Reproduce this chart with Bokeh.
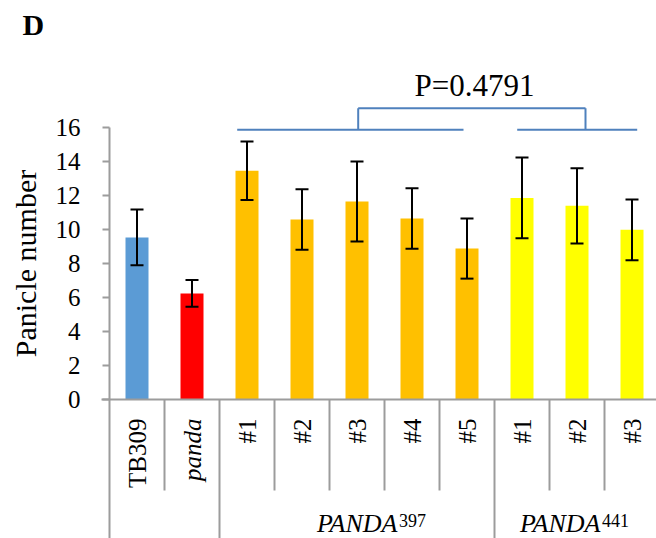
import numpy as np
from bokeh.plotting import figure
from bokeh.models import (ColumnDataSource, Range1d, LinearAxis, FixedTicker,
                          Whisker, TeeHead)
from bokeh.core.properties import value, field
from bokeh.embed import file_html
from bokeh.resources import INLINE

# ---- data -------------------------------------------------------------
categories = ["TB309", "panda", "#1", "#2", "#3", "#4", "#5", "#1", "#2", "#3"]
label_styles = ["normal", "italic", "normal", "normal", "normal",
                "normal", "normal", "normal", "normal", "normal"]
means = [9.53, 6.24, 13.45, 10.59, 11.65, 10.65, 8.88, 11.86, 11.39, 9.98]
errors = [1.64, 0.79, 1.72, 1.78, 2.35, 1.78, 1.77, 2.37, 2.21, 1.79]
bar_colors = ["#5B9BD5", "#FF0000", "#FFC000", "#FFC000", "#FFC000",
              "#FFC000", "#FFC000", "#FFFF00", "#FFFF00", "#FFFF00"]
group_names = ["PANDA", "PANDA"]
group_sups = ["397", "441"]
y_ticks = [0, 2, 4, 6, 8, 10, 12, 14, 16]
p_text = "P=0.4791"
y_title = "Panicle number"
panel_letter = "D"

# ---- geometry ---------------------------------------------------------
W, H = 656, 538
LEFT = 109          # pixel column of the y axis line
PX_X = 55.0         # pixels per category
PX_Y = 17.0         # pixels per unit of panicle number
ZERO = 399          # pixel row of y = 0

x_start = -LEFT / PX_X
x_end = (W - LEFT) / PX_X
y_min = -(H - ZERO) / PX_Y
y_max = ZERO / PX_Y


def px(v):
    """pixel column -> data x"""
    return (v - LEFT) / PX_X


def py(v):
    """pixel row -> data y"""
    return (ZERO - v) / PX_Y


AXIS_GRAY = "#9C9C9C"
SERIF = "Liberation Serif"

p = figure(width=W, height=H,
           x_range=Range1d(x_start, x_end), y_range=Range1d(y_min, y_max),
           x_axis_location=None, y_axis_location=None,
           min_border_left=0, min_border_right=0,
           min_border_top=0, min_border_bottom=0,
           toolbar_location=None, output_backend="svg",
           outline_line_color=None,
           background_fill_color="white", border_fill_color="white")
p.grid.visible = False

# ---- y axis pinned at x = 0; its line runs down through the table -----
yaxis = LinearAxis(bounds=(y_min, 16), ticker=FixedTicker(ticks=y_ticks),
                   fixed_location=0)
yaxis.axis_line_color = AXIS_GRAY
yaxis.axis_line_width = 2
yaxis.major_tick_line_color = AXIS_GRAY
yaxis.major_tick_line_width = 2
yaxis.major_tick_out = 7
yaxis.major_tick_in = 0
yaxis.minor_tick_out = 0
yaxis.minor_tick_in = 0
yaxis.major_label_text_font = SERIF
yaxis.major_label_text_font_size = "25px"
yaxis.major_label_text_color = "black"
yaxis.major_label_standoff = 22
p.add_layout(yaxis, "left")

# ---- bars and error bars ---------------------------------------------
xs = [i + 0.5 for i in range(len(categories))]
src = ColumnDataSource(dict(
    x=xs, top=means, color=bar_colors,
    upper=[m + e for m, e in zip(means, errors)],
    lower=[m - e for m, e in zip(means, errors)],
))
p.vbar(x="x", top="top", bottom=0, width=23 / PX_X, color="color",
       line_color=None, source=src)

p.add_layout(Whisker(source=src, base="x", upper="upper", lower="lower",
                     dimension="height", line_color="black", line_width=2,
                     level="overlay",
                     upper_head=TeeHead(size=13, line_color="black", line_width=2),
                     lower_head=TeeHead(size=13, line_color="black", line_width=2)))

# ---- category axis drawn as a multi-level table -----------------------
p.segment(x0=[px(101)], y0=[0], x1=[x_end], y1=[0],
          line_color=AXIS_GRAY, line_width=2)
tick_bottom = py(490)
inner = [1, 3, 4, 5, 6, 8, 9]
p.segment(x0=inner, y0=[0] * len(inner), x1=inner, y1=[tick_bottom] * len(inner),
          line_color=AXIS_GRAY, line_width=2)
group_edges = [2, 7]
p.segment(x0=group_edges, y0=[0, 0], x1=group_edges, y1=[y_min, y_min],
          line_color=AXIS_GRAY, line_width=2)

lab_src = ColumnDataSource(dict(x=xs, y=[py(418)] * len(xs),
                                text=categories, style=label_styles))
p.text(x="x", y="y", text="text", source=lab_src, angle=np.pi / 2,
       text_align="right", text_baseline="middle",
       text_font=value(SERIF), text_font_size="25px",
       text_font_style=field("style"), text_color="black")

# group names with superscript allele numbers
join_x = [px(397), px(600)]
p.text(x=join_x, y=[py(523)] * 2, text=group_names,
       text_align="right", text_baseline="alphabetic",
       text_font=value(SERIF), text_font_size="26px",
       text_font_style="italic", text_color="black")
p.text(x=[j + 1.5 / PX_X for j in join_x], y=[py(520)] * 2,
       text=group_sups, text_align="left", text_baseline="alphabetic",
       text_font=value(SERIF), text_font_size="18px", text_color="black")

# ---- significance bracket --------------------------------------------
BR = "#4F81BD"
low = py(129.3)
high = py(107.7)
p.segment(x0=[px(236.7), px(516.7), px(357.7), px(357.7), px(585)],
          y0=[low, low, high, low, low],
          x1=[px(463), px(636.7), px(585), px(357.7), px(585)],
          y1=[low, low, high, high, high],
          line_color=BR, line_width=2)
p.text(x=[px(474)], y=[py(85)], text=[p_text],
       text_align="center", text_baseline="alphabetic",
       text_font=value(SERIF), text_font_size="31px", text_color="black")

# ---- panel letter and y title -----------------------------------------
p.text(x=[px(22)], y=[py(23.5)], text=[panel_letter],
       text_align="left", text_baseline="alphabetic",
       text_font=value(SERIF), text_font_size="30px",
       text_font_style="bold", text_color="black")
p.text(x=[px(25)], y=[8], text=[y_title], angle=np.pi / 2,
       text_align="center", text_baseline="alphabetic",
       text_font=value(SERIF), text_font_size="30px", text_color="black")

open("out.html", "w").write(file_html(p, INLINE))
